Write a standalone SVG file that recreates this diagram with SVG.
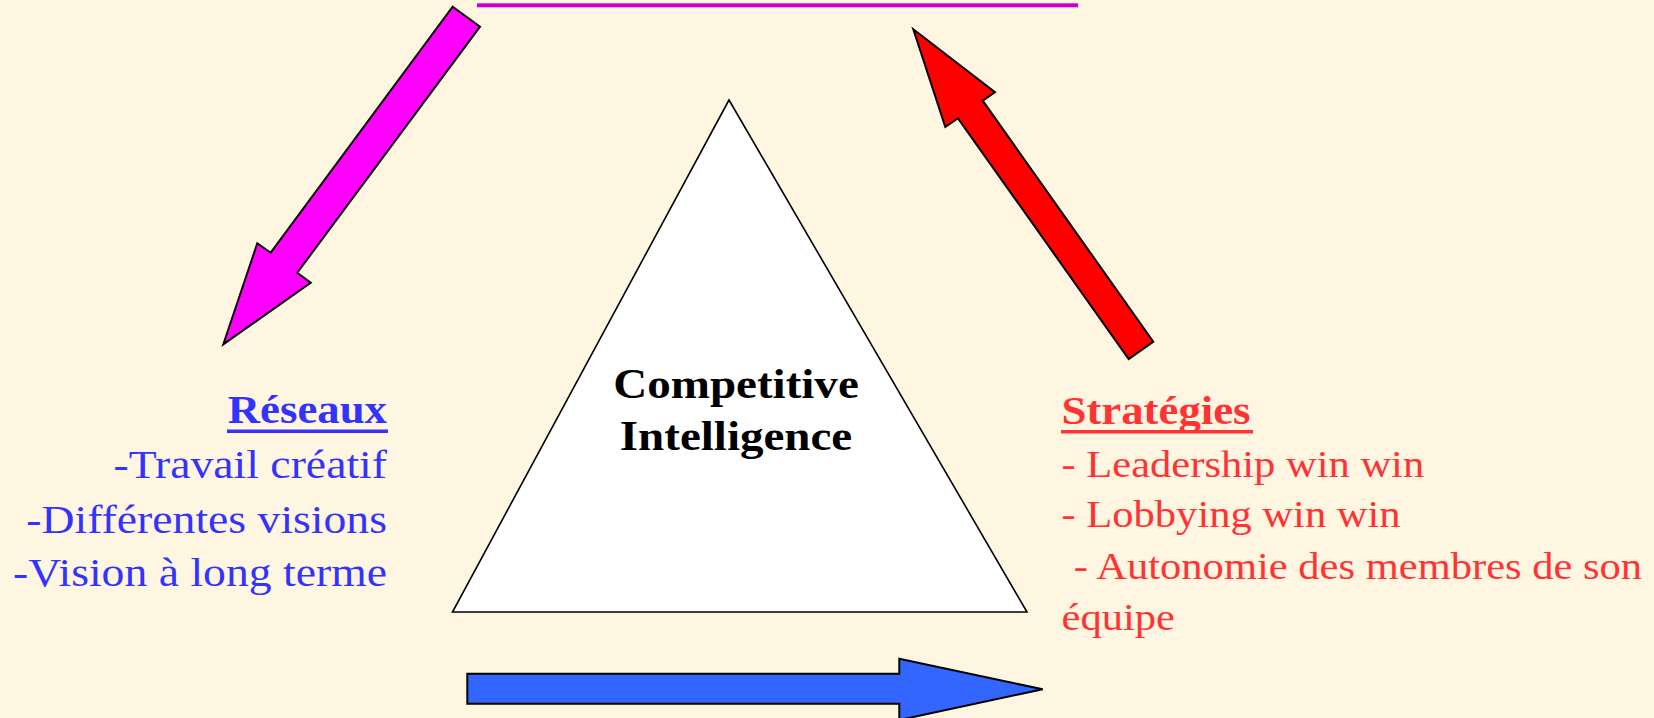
<svg xmlns="http://www.w3.org/2000/svg" width="1654" height="718" viewBox="0 0 1654 718">
<style>
.bg{fill:#FFF6E1}
.blk{stroke:#000;stroke-width:2;stroke-linejoin:miter}
.t{font-family:"Liberation Serif","Times New Roman",serif}
.blue{fill:#3333FF}
.red{fill:#FF3333}
.b{font-weight:bold}
</style>
<rect class="bg" x="0" y="0" width="1654" height="718"/>
<g id="connectors">
  <rect x="477" y="3.3" width="601" height="4" fill="#CC00CC"/>
  <polygon class="blk" fill="#FF00FF" points="452.7,6.7 480,26.7 297.3,272.7 310.7,282.7 223.3,344.3 257.3,243.3 270.7,252.7"/>
  <polygon class="blk" fill="#FF0000" points="913.3,29.3 995,92.3 982.7,100.7 1153.3,341.7 1128.7,359 958,118.3 945.3,127"/>
  <polygon class="blk" fill="#3366FF" points="467.3,673.7 899.3,673.7 899.3,658.7 1042.7,689.3 899.3,720 899.3,703.7 467.3,703.7"/>
</g>
<g id="competitive-intelligence">
  <polygon points="729,100 452.5,612 1027,612" fill="#FFFFFF" stroke="#000" stroke-width="1.6"/>
  <g transform="translate(736,0) scale(1.12,1)">
    <text class="t b" x="0" y="398" font-size="42" text-anchor="middle" fill="#000">Competitive</text>
    <text class="t b" x="0" y="450" font-size="42" text-anchor="middle" fill="#000">Intelligence</text>
  </g>
</g>
<g id="reseaux">
  <g transform="translate(387,0) scale(1.12,1)">
    <text class="t b blue" x="0" y="423" font-size="40" text-anchor="end">Réseaux</text>
    <text class="t blue" x="0" y="478" font-size="40.8" text-anchor="end">-Travail créatif</text>
    <text class="t blue" x="0" y="533" font-size="40.8" text-anchor="end">-Différentes visions</text>
    <text class="t blue" x="0" y="586" font-size="40.8" text-anchor="end">-Vision à long terme</text>
  </g>
  <rect class="blue" x="227" y="429.5" width="161" height="3.5"/>
</g>
<g id="strategies">
  <g transform="translate(1061.5,0) scale(1.12,1)">
    <text class="t b red" x="0" y="424" font-size="40">Stratégies</text>
    <text class="t red" x="0" y="477" font-size="38">- Leadership win win</text>
    <text class="t red" x="0" y="527" font-size="38">- Lobbying win win</text>
    <text class="t red" x="11" y="579" font-size="38">- Autonomie des membres de son</text>
    <text class="t red" x="0" y="630" font-size="38">équipe</text>
  </g>
  <rect class="red" x="1061" y="430" width="192" height="3.5"/>
</g>
</svg>
